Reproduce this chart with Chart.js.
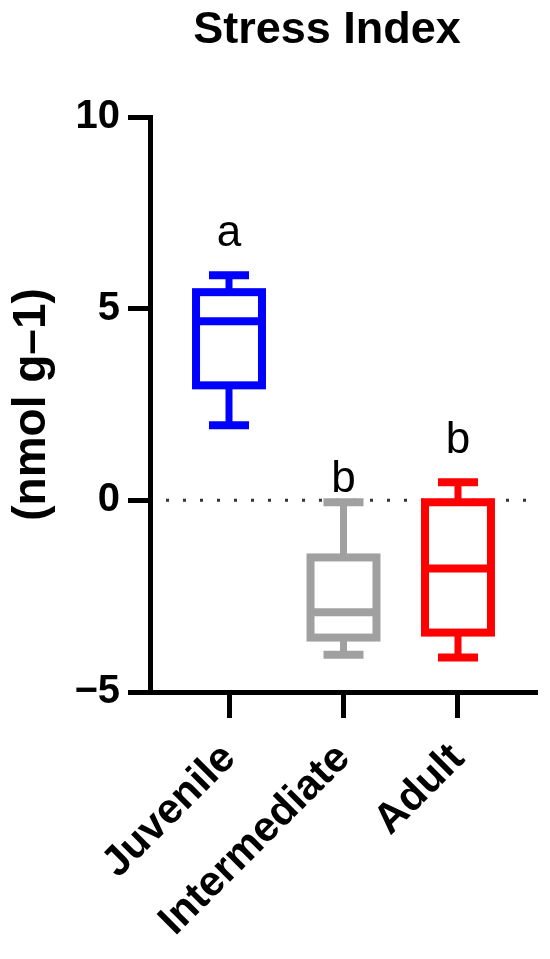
<!DOCTYPE html>
<html>
<head>
<meta charset="utf-8">
<script src="https://cdn.jsdelivr.net/npm/chart.js@4.4.1/dist/chart.umd.min.js"></script>
<style>
  html, body { margin: 0; padding: 0; background: #fff; }
  #wrap { width: 550px; height: 959px; }
</style>
</head>
<body>
<div id="wrap"><canvas id="box-chart"></canvas></div>
<script>
// values
const categories = ["Juvenile", "Intermediate", "Adult"];
const minValues = [1.96, -4.03, -4.1];
const q1Values = [3.0, -3.58, -3.45];
const medianValues = [4.67, -2.92, -1.78];
const q3Values = [5.43, -1.49, -0.05];
const maxValues = [5.87, -0.05, 0.47];
const groupLetters = ["a", "b", "b"];
const letterBaselines = [6.63, 0.23, 1.23];
const yTicks = [-5, 0, 5, 10];

const colors = ["#0000ff", "#a0a0a0", "#ff0000"];
const FONT = "'Liberation Sans', Arial, sans-serif";

const points = (vals) => vals.map((v, i) => ({ x: i, y: v }));

// box + whiskers + zero line, drawn through the chart scales
const boxPlugin = {
  id: "boxes",
  beforeDatasetsDraw(chart) {
    const { ctx, chartArea, scales: { x, y } } = chart;
    ctx.save();
    // dotted zero line
    ctx.strokeStyle = "#333";
    ctx.lineWidth = 3;
    ctx.setLineDash([3, 14]);
    ctx.beginPath();
    ctx.moveTo(chartArea.left + 16, y.getPixelForValue(0));
    ctx.lineTo(chartArea.right, y.getPixelForValue(0));
    ctx.stroke();
    ctx.setLineDash([]);

    categories.forEach((c, i) => {
      const cx = x.getPixelForValue(i);
      const half = x.getPixelForValue(i + 0.288) - cx;
      const yMax = y.getPixelForValue(maxValues[i]);
      const yMin = y.getPixelForValue(minValues[i]);
      const yQ3 = y.getPixelForValue(q3Values[i]);
      const yQ1 = y.getPixelForValue(q1Values[i]);
      ctx.strokeStyle = colors[i];
      ctx.lineWidth = 7;
      ctx.beginPath();
      ctx.moveTo(cx, yMax);
      ctx.lineTo(cx, yQ3);
      ctx.moveTo(cx, yQ1);
      ctx.lineTo(cx, yMin);
      ctx.stroke();
      ctx.lineWidth = 8;
      ctx.strokeRect(cx - half, yQ3, half * 2, yQ1 - yQ3);
    });
    ctx.restore();
  },
  afterDraw(chart) {
    const { ctx, scales: { x, y } } = chart;
    ctx.save();
    ctx.fillStyle = "#000";
    ctx.textAlign = "center";
    ctx.textBaseline = "alphabetic";
    ctx.font = "44px " + FONT;
    groupLetters.forEach((l, i) => {
      ctx.fillText(l, x.getPixelForValue(i), y.getPixelForValue(letterBaselines[i]));
    });
    ctx.font = "bold 45px " + FONT;
    ctx.fillText("Stress Index", 327, 43);
    ctx.restore();
  },
};

new Chart(document.getElementById("box-chart"), {
  type: "scatter",
  data: {
    datasets: [
      {
        label: "median",
        data: points(medianValues),
        pointStyle: "line",
        radius: 33,
        borderWidth: 8,
        borderColor: colors,
      },
      {
        label: "max",
        data: points(maxValues),
        pointStyle: "line",
        radius: 20,
        borderWidth: 8,
        borderColor: colors,
      },
      {
        label: "min",
        data: points(minValues),
        pointStyle: "line",
        radius: 20,
        borderWidth: 8,
        borderColor: colors,
      },
    ],
  },
  options: {
    responsive: true,
    maintainAspectRatio: false,
    animation: false,
    events: [],
    layout: { autoPadding: false, padding: { top: 117, right: 13, left: 0, bottom: 0 } },
    plugins: {
      legend: { display: false },
      tooltip: { enabled: false },
      title: { display: false },
    },
    scales: {
      x: {
        type: "linear",
        min: -0.69,
        max: 2.69,
        afterBuildTicks: (s) => {
          s.ticks = categories.map((c, i) => ({ value: i }));
        },
        beforeFit: (s) => {
          // rotated labels should not push the axis end inwards
          s._calculatePadding = function () {
            this.paddingLeft = 0;
            this.paddingRight = 0;
          };
        },
        afterFit: (s) => {
          s.height = 267;
        },
        ticks: {
          callback: (v, i) => categories[i],
          minRotation: 45,
          maxRotation: 45,
          autoSkip: false,
          padding: 16,
          color: "#000",
          font: { family: FONT, size: 42, weight: "bold" },
        },
        grid: { drawOnChartArea: false, tickLength: 26, tickWidth: 5, tickColor: "#000" },
        border: { color: "#000", width: 5 },
      },
      y: {
        min: -5,
        max: 10,
        afterBuildTicks: (s) => {
          s.ticks = yTicks.map((v) => ({ value: v }));
        },
        afterFit: (s) => {
          s.width = 150;
        },
        ticks: {
          callback: (v) => (v < 0 ? "\u2212" + Math.abs(v) : String(v)),
          padding: 8,
          color: "#000",
          font: { family: FONT, size: 40, weight: "bold" },
        },
        grid: { drawOnChartArea: false, tickLength: 22, tickWidth: 5, tickColor: "#000" },
        border: { color: "#000", width: 5 },
        title: {
          display: true,
          text: "(nmol g\u20131)",
          color: "#000",
          padding: { top: 5, bottom: 0 },
          font: { family: FONT, size: 46, weight: "bold" },
        },
      },
    },
  },
  plugins: [boxPlugin],
});
</script>
</body>
</html>
